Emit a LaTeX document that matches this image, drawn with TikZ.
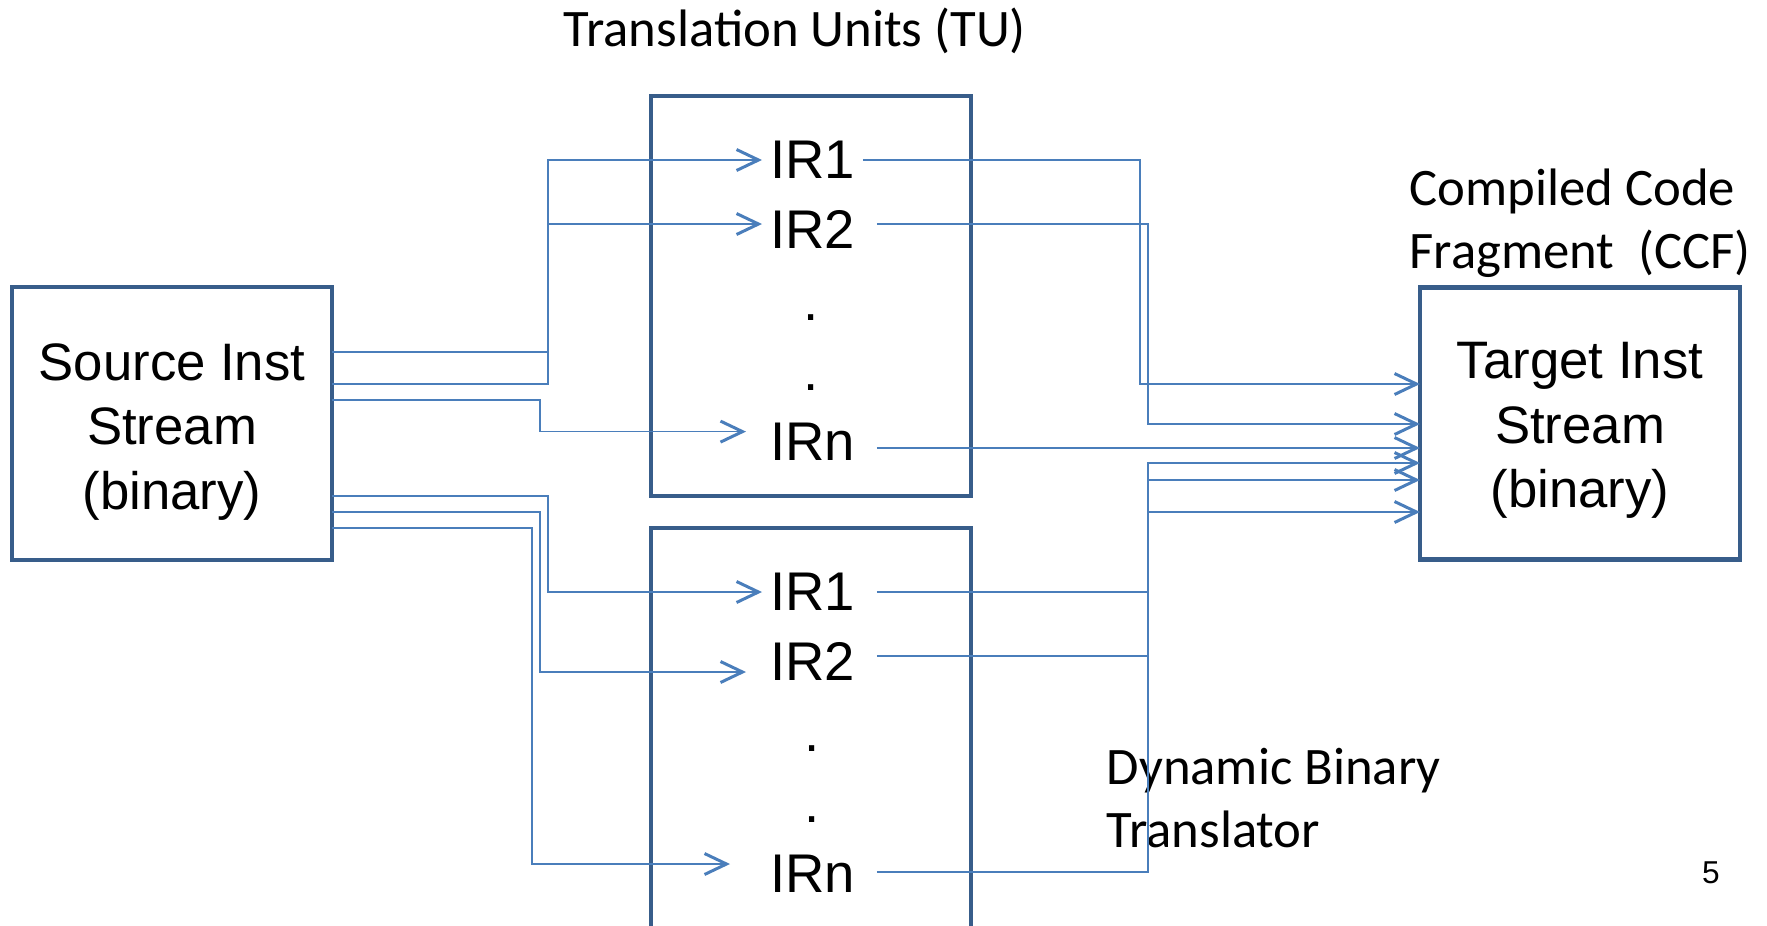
\documentclass[tikz,border=0pt]{standalone}
\usepackage{fontspec}
\setmainfont{Liberation Sans}
\newfontfamily\calibri{Carlito}
\usetikzlibrary{arrows.meta,calc}
\definecolor{cbox}{HTML}{385D8A}
\definecolor{cwire}{HTML}{4A7EBB}
\tikzset{
  unitbox/.style={rectangle, draw=cbox, line width=0.45mm, inner sep=0pt, outer sep=0pt},
  boxtext/.style={align=center, inner sep=0pt, font=\fontsize{15}{18.35}\selectfont},
  irtext/.style={anchor=base west, inner xsep=0.8mm, inner ysep=0pt, outer sep=0pt,
                 font=\fontsize{15.5}{18}\selectfont},
  dottext/.style={anchor=base, inner sep=0pt, font=\fontsize{15.5}{18}\selectfont},
  note/.style={anchor=base west, align=left, inner sep=0pt, font=\calibri\fontsize{15}{17.9}\selectfont},
  wire/.style={draw=cwire, line width=0.17mm, -{Straight Barb[length=2.2mm,width=2.1mm,line width=0.3mm]}}
}
\begin{document}
\begin{tikzpicture}[x=0.1mm, y=-0.1mm]
\useasboundingbox (0,0) rectangle (1767,925);
\clip (0,0) rectangle (1767,925);
\node[unitbox, minimum width=32mm, minimum height=27.3mm] (src) at (172,423.5) {};
\node[boxtext, yshift=-0.85mm] (srctext) at (src) {Source Inst\\Stream\\(binary)};
\node[unitbox, minimum width=32mm, minimum height=40mm] (tu1) at (811,296) {};
\node[unitbox, minimum width=32mm, minimum height=47.2mm] (tu2) at (811,764) {};
\node[unitbox, minimum width=32mm, minimum height=27.2mm] (tgt) at (1580,423.3) {};
\node[boxtext, yshift=-0.75mm] (tgttext) at (tgt) {Target Inst\\Stream\\(binary)};
\node[note, anchor=base] (title) at (795,46.4) {Translation Units (TU)};
\node[note] (ccf) at (1409,268) {Compiled Code\\Fragment\ \ (CCF)};
\node[note] (dbt) at (1106,847) {Dynamic Binary\\Translator};
\node[anchor=base, inner sep=0pt, font=\fontsize{9}{11}\selectfont] (pageno) at (1711,883) {5};
\node[irtext] (ir11) at (762,178) {IR1};
\node[irtext] (ir12) at (762,248) {IR2};
\node[dottext] (dt11) at (811,320) {.};
\node[dottext] (dt12) at (811,390) {.};
\node[irtext] (irn1) at (762,460) {IRn};
\node[irtext] (ir21) at (762,610) {IR1};
\node[irtext] (ir22) at (762,680) {IR2};
\node[dottext] (dt21) at (812,751) {.};
\node[dottext] (dt22) at (812,822) {.};
\node[irtext] (irn2) at (762,892) {IRn};
\draw[wire] (src.east |- 0,351.7) -| (548,160) -- (ir11.west |- 0,160);
\draw[wire] (src.east |- 0,384) -| (548,224) -- (ir12.west |- 0,224);
\draw[wire, shorten >=1.6mm] (src.east |- 0,400) -| (540,431.6) -- (irn1.west |- 0,431.6);
\draw[wire] (src.east |- 0,496) -| (548,592) -- (ir21.west |- 0,592);
\draw[wire, shorten >=1.6mm] (src.east |- 0,512) -| (540,672) -- (ir22.west |- 0,672);
\draw[wire, shorten >=3.2mm] (src.east |- 0,528) -| (532,864) -- (irn2.west |- 0,864);
\draw[wire] (ir11.east |- 0,160) -| (1140,384) -- (tgt.west |- 0,384);
\draw[wire, shorten <=1.4mm] (ir12.east |- 0,224) -| (1148,424) -- (tgt.west |- 0,424);
\draw[wire, shorten <=1.4mm] (irn1.east |- 0,448) -- (tgt.west |- 0,448);
\draw[wire, shorten <=1.4mm] (ir21.east |- 0,592) -| (1148,512) -- (tgt.west |- 0,512);
\draw[wire, shorten <=1.4mm] (ir22.east |- 0,656) -| (1148,480) -- (tgt.west |- 0,480);
\draw[wire, shorten <=1.4mm] (irn2.east |- 0,872) -| (1148,463) -- (tgt.west |- 0,463);
\end{tikzpicture}
\end{document}
